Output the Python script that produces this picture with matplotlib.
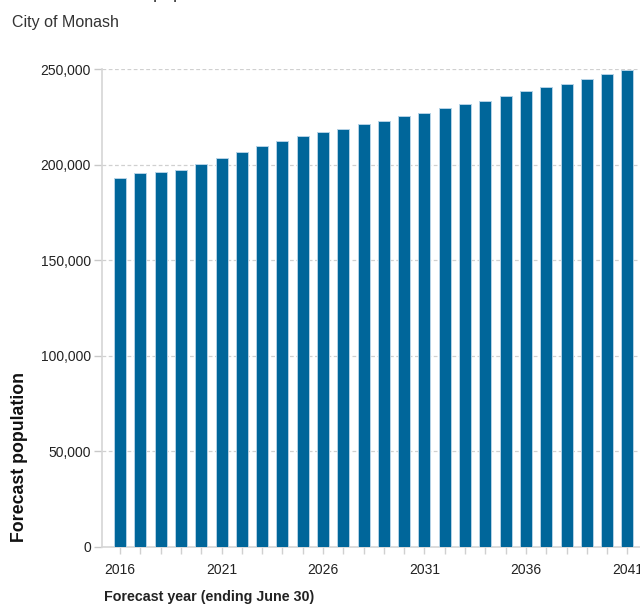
import matplotlib
matplotlib.use("Agg")
import matplotlib.pyplot as plt
from matplotlib.ticker import FuncFormatter, MultipleLocator
import numpy as np

# forecast population, City of Monash
years = list(range(2016, 2042))
population = [192980, 195440, 196300, 197020, 200180, 203500, 206840,
              210000, 212460, 214900, 217370, 218950, 221400, 222980,
              225440, 227020, 229470, 231930, 233510, 235960, 238420,
              240700, 242460, 244910, 247370, 249650]
label_years = [2016, 2021, 2026, 2031, 2036, 2041]

plt.rcParams['font.family'] = ['Liberation Sans', 'DejaVu Sans']

fig = plt.figure(figsize=(6.4, 6.06), dpi=100)
ax = fig.add_axes([102 / 640, 1 - 546.5 / 606, 1 - 102 / 640, (546.5 - 69.3) / 606])

x = np.arange(len(years))
ax.bar(x, population, width=0.59, color='#00669a', edgecolor='#b5d3e6',
       linewidth=0.7, zorder=3)

ax.set_xlim(-0.89, 25.62)
ax.set_ylim(0, 250000)

ax.yaxis.set_major_locator(MultipleLocator(50000))
ax.yaxis.set_major_formatter(FuncFormatter(lambda v, p: f'{int(v):,}'))
ax.grid(axis='y', color='#d0d0d0', linestyle=(0, (3, 2)), linewidth=0.9, zorder=0)

ax.set_xticks(x)
ax.set_xticklabels([str(y) if y in label_years else '' for y in years])

for side in ['top', 'right']:
    ax.spines[side].set_visible(False)
for side in ['left', 'bottom']:
    ax.spines[side].set_color('#d6d6d6')
    ax.spines[side].set_linewidth(1.2)

ax.tick_params(axis='y', colors='#c8c8c8', length=6, width=1, labelsize=10,
               labelcolor='#222222', pad=2)
ax.tick_params(axis='x', colors='#d0d0d0', length=5, width=1, labelsize=10,
               labelcolor='#222222', pad=7)

fig.text(12 / 640, 1 - 22 / 606, 'City of Monash', fontsize=11.5,
         color='#333333', va='center', ha='left')
fig.text(78 / 640, 1 + 6 / 606, 'Forecast population', fontsize=13,
         color='#333333', va='center', ha='left')

fig.text(20 / 640, 1 - 457 / 606, 'Forecast population', rotation=90,
         fontsize=12.8, fontweight='bold', color='#111111', va='center', ha='center')
fig.text(104 / 640, 1 - 597 / 606, 'Forecast year (ending June 30)',
         fontsize=10.3, fontweight='bold', color='#222222', va='center', ha='left')

fig.savefig('out.png', dpi=100)
